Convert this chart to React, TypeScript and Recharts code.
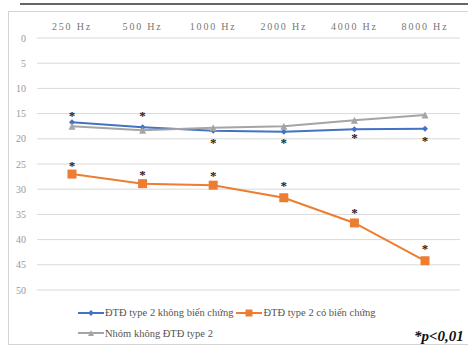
import { LineChart, Line, XAxis, YAxis, CartesianGrid } from 'recharts';

const freqs = ['250 Hz', '500 Hz', '1000 Hz', '2000 Hz', '4000 Hz', '8000 Hz'];
const noComplication = [16.7, 17.7, 18.4, 18.6, 18.1, 18.0];
const withComplication = [27.0, 28.9, 29.2, 31.7, 36.7, 44.2];
const noDiabetes = [17.5, 18.3, 17.8, 17.5, 16.3, 15.3];
// where the significance marks sit
const starNear = [15.3, 15.3, 20.6, 20.6, 19.6, 20.2];
const starFar = [25.1, 27.0, 27.2, 29.1, 34.5, 41.6];
const yTicks = [0, 5, 10, 15, 20, 25, 30, 35, 40, 45, 50];

const series = [
  { key: 'a', name: 'ĐTĐ type 2 không biến chứng', color: '#4472C4', shape: 'diamond' },
  { key: 'b', name: 'ĐTĐ type 2 có biến chứng', color: '#ED7D31', shape: 'square' },
  { key: 'c', name: 'Nhóm không ĐTĐ type 2', color: '#A5A5A5', shape: 'triangle' },
];

const data = freqs.map((f, i) => ({
  freq: f,
  a: noComplication[i],
  b: withComplication[i],
  c: noDiabetes[i],
  s1: starNear[i],
  s2: starFar[i],
}));

const serif = '"Liberation Serif", "DejaVu Serif", serif';

function Marker({ cx, cy, shape, color, size }: any) {
  if (cx == null || cy == null) return null;
  if (shape === 'square') {
    return <rect x={cx - size / 2} y={cy - size / 2} width={size} height={size} fill={color} />;
  }
  if (shape === 'triangle') {
    const h = size;
    return <polygon points={`${cx},${cy - h / 2} ${cx + h / 2},${cy + h / 2} ${cx - h / 2},${cy + h / 2}`} fill={color} />;
  }
  const r = size / 2;
  return <polygon points={`${cx},${cy - r} ${cx + r},${cy} ${cx},${cy + r} ${cx - r},${cy}`} fill={color} />;
}

function Star({ cx, cy }: any) {
  if (cx == null || cy == null) return null;
  return (
    <text x={cx} y={cy + 5} textAnchor="middle" fontSize={13} fontWeight="bold" fill="#222" stroke="none" fontFamily={serif}>
      *
    </text>
  );
}

function LegendBox() {
  const item = (s: typeof series[number]) => (
    <span key={s.key} style={{ display: 'inline-flex', alignItems: 'center', marginRight: 3 }}>
      <svg width={26} height={10} style={{ marginRight: 1 }}>
        <line x1={0} y1={5} x2={26} y2={5} stroke={s.color} strokeWidth={2} />
        <Marker cx={13} cy={5} shape={s.shape} color={s.color} size={s.shape === 'square' ? 7 : 6} />
      </svg>
      <span>{s.name}</span>
    </span>
  );
  return (
    <div style={{ fontFamily: serif, fontSize: 10.5, color: '#555', lineHeight: '19px', whiteSpace: 'nowrap' }}>
      <div>{item(series[0])}{item(series[1])}</div>
      <div>{item(series[2])}</div>
    </div>
  );
}

export default function App() {
  return (
    <div style={{ position: 'absolute', left: 0, top: 0, width: 468, height: 348, background: '#fff', overflow: 'hidden' }}>
      <div style={{ position: 'absolute', left: 20, top: 3, width: 460, height: 2, background: '#666' }} />
      <div style={{ position: 'absolute', left: 8, top: 11, width: 470, height: 332, border: '1px solid #d4d4d4' }} />
      <div style={{ position: 'absolute', left: 0, top: 0 }}>
        <LineChart width={468} height={300} data={data} margin={{ top: 18, right: 8, left: 7, bottom: 10 }}>
          <CartesianGrid vertical={false} stroke="#d9d9d9" />
          <XAxis
            dataKey="freq"
            orientation="top"
            axisLine={false}
            tickLine={false}
            tickSize={0}
            tickMargin={8}
            height={20}
            interval={0}
            padding={{ left: 35, right: 35 }}
            tick={{ fontSize: 10, fill: '#777', fontFamily: serif, letterSpacing: 1.8 }}
          />
          <YAxis
            reversed
            domain={[0, 50]}
            ticks={yTicks}
            axisLine={false}
            tickLine={false}
            tickSize={0}
            tickMargin={11}
            width={30}
            interval={0}
            tick={{ fontSize: 10, fill: '#999', fontFamily: serif }}
          />
          {series.map((s) => (
            <Line
              key={s.key}
              dataKey={s.key}
              name={s.name}
              stroke={s.color}
              strokeWidth={2}
              isAnimationActive={false}
              dot={(p: any) => (
                <Marker key={`${s.key}-${p.index}`} cx={p.cx} cy={p.cy} shape={s.shape} color={s.color} size={s.shape === 'square' ? 9 : s.shape === 'triangle' ? 7 : 6} />
              )}
              activeDot={false}
            />
          ))}
          <Line dataKey="s1" stroke="none" legendType="none" isAnimationActive={false} dot={(p: any) => <Star key={`s1-${p.index}`} cx={p.cx} cy={p.cy} />} activeDot={false} />
          <Line dataKey="s2" stroke="none" legendType="none" isAnimationActive={false} dot={(p: any) => <Star key={`s2-${p.index}`} cx={p.cx} cy={p.cy} />} activeDot={false} />
        </LineChart>
      </div>
      <div style={{ position: 'absolute', left: 78, top: 303 }}>
        <LegendBox />
      </div>
      <div style={{ position: 'absolute', left: 414, top: 328, fontFamily: serif, fontSize: 15, lineHeight: '17px', fontWeight: 'bold', fontStyle: 'italic', color: '#111', whiteSpace: 'nowrap' }}>
        *p&lt;0,01
      </div>
    </div>
  );
}
